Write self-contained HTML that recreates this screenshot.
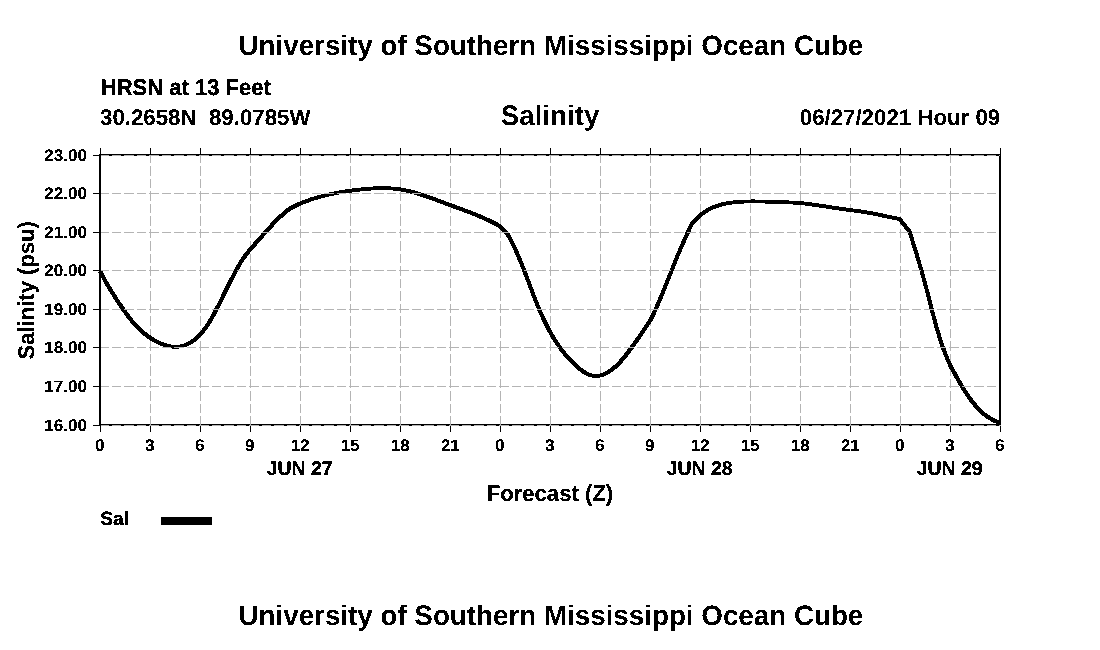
<!DOCTYPE html>
<html lang="en"><head><meta charset="utf-8"><title>University of Southern Mississippi Ocean Cube - Salinity</title>
<style>
html,body{margin:0;padding:0;background:#fff;}
body{width:1100px;height:650px;overflow:hidden;}
svg{display:block;}
text{font-family:"Liberation Sans",Arial,Helvetica,sans-serif;font-weight:bold;fill:#000;stroke:#000;stroke-linejoin:miter;white-space:pre;text-rendering:geometricPrecision;}
.grid line{stroke:#b4b4b4;stroke-width:1;stroke-dasharray:9.5 3;}
.ax rect{stroke:none;fill:#000;}
</style></head><body>
<svg width="1100" height="650" viewBox="0 0 1100 650">
<defs><filter id="bw" x="0" y="0" width="1100" height="650" filterUnits="userSpaceOnUse" color-interpolation-filters="sRGB"><feComponentTransfer><feFuncA type="discrete" tableValues="0 1"/></feComponentTransfer></filter></defs>
<rect x="0" y="0" width="1100" height="650" fill="#fff"/>
<g class="ax" shape-rendering="crispEdges">
<rect x="99" y="154" width="902" height="2"/>
<rect x="99" y="424" width="902" height="2"/>
</g>
<g class="grid" shape-rendering="crispEdges">
<line x1="150.5" y1="425.5" x2="150.5" y2="156"/>
<line x1="200.5" y1="425.5" x2="200.5" y2="156"/>
<line x1="250.5" y1="425.5" x2="250.5" y2="156"/>
<line x1="300.5" y1="425.5" x2="300.5" y2="156"/>
<line x1="350.5" y1="425.5" x2="350.5" y2="156"/>
<line x1="400.5" y1="425.5" x2="400.5" y2="156"/>
<line x1="450.5" y1="425.5" x2="450.5" y2="156"/>
<line x1="500.5" y1="425.5" x2="500.5" y2="156"/>
<line x1="550.5" y1="425.5" x2="550.5" y2="156"/>
<line x1="600.5" y1="425.5" x2="600.5" y2="156"/>
<line x1="650.5" y1="425.5" x2="650.5" y2="156"/>
<line x1="700.5" y1="425.5" x2="700.5" y2="156"/>
<line x1="750.5" y1="425.5" x2="750.5" y2="156"/>
<line x1="800.5" y1="425.5" x2="800.5" y2="156"/>
<line x1="850.5" y1="425.5" x2="850.5" y2="156"/>
<line x1="900.5" y1="425.5" x2="900.5" y2="156"/>
<line x1="950.5" y1="425.5" x2="950.5" y2="156"/>
</g>
<path d="M98.13 271.96 L98.81 273.30 L99.51 274.64 L100.21 275.97 L100.91 277.30 L101.63 278.63 L102.35 279.95 L103.08 281.27 L103.81 282.59 L104.56 283.90 L105.30 285.21 L106.06 286.51 L106.82 287.81 L107.59 289.10 L108.36 290.39 L109.14 291.68 L109.93 292.97 L110.72 294.25 L111.52 295.52 L112.32 296.80 L113.13 298.07 L113.94 299.33 L114.76 300.59 L115.59 301.85 L116.42 303.11 L117.26 304.36 L118.10 305.61 L118.94 306.86 L119.79 308.10 L120.65 309.34 L121.51 310.58 L122.37 311.81 L123.24 313.05 L124.12 314.27 L125.01 315.50 L125.91 316.72 L126.81 317.93 L127.73 319.14 L128.66 320.34 L129.61 321.53 L130.56 322.70 L131.54 323.87 L132.53 325.02 L133.53 326.16 L134.56 327.29 L135.61 328.40 L136.67 329.49 L137.76 330.56 L138.87 331.61 L140.00 332.64 L141.15 333.65 L142.33 334.64 L143.52 335.60 L144.74 336.54 L145.97 337.46 L147.22 338.36 L148.50 339.23 L149.79 340.07 L151.10 340.89 L152.43 341.69 L153.78 342.46 L155.15 343.20 L156.54 343.92 L157.95 344.60 L159.39 345.24 L160.84 345.85 L162.32 346.40 L163.82 346.90 L165.34 347.35 L166.87 347.73 L168.42 348.05 L169.98 348.31 L171.54 348.50 L173.10 348.62 L174.67 348.67 L176.23 348.67 L177.79 348.62 L179.35 348.50 L180.90 348.30 L182.45 348.02 L183.97 347.65 L185.48 347.20 L186.97 346.66 L188.43 346.04 L189.85 345.34 L191.24 344.57 L192.59 343.74 L193.91 342.84 L195.20 341.90 L196.45 340.91 L197.67 339.87 L198.85 338.80 L200.00 337.70 L201.11 336.57 L202.18 335.42 L203.22 334.25 L204.23 333.06 L205.21 331.85 L206.15 330.63 L207.07 329.40 L207.96 328.15 L208.83 326.89 L209.67 325.62 L210.49 324.34 L211.29 323.05 L212.07 321.75 L212.83 320.44 L213.58 319.13 L214.31 317.81 L215.03 316.49 L215.74 315.16 L216.45 313.83 L217.14 312.50 L217.83 311.17 L218.51 309.84 L219.20 308.50 L219.87 307.16 L220.55 305.82 L221.22 304.48 L221.90 303.14 L222.57 301.80 L223.23 300.46 L223.90 299.12 L224.57 297.77 L225.23 296.43 L225.90 295.09 L226.56 293.74 L227.22 292.40 L227.89 291.06 L228.56 289.72 L229.22 288.38 L229.89 287.04 L230.56 285.70 L231.23 284.37 L231.90 283.04 L232.58 281.71 L233.25 280.38 L233.94 279.05 L234.62 277.73 L235.31 276.41 L236.00 275.10 L236.69 273.78 L237.39 272.47 L238.09 271.17 L238.80 269.87 L239.51 268.58 L240.24 267.31 L240.97 266.04 L241.72 264.78 L242.49 263.53 L243.27 262.30 L244.07 261.07 L244.89 259.86 L245.73 258.67 L246.58 257.48 L247.46 256.31 L248.35 255.15 L249.26 254.00 L250.19 252.86 L251.13 251.73 L252.08 250.60 L253.04 249.47 L254.01 248.35 L254.99 247.24 L255.98 246.12 L256.97 245.00 L257.97 243.88 L258.97 242.76 L259.96 241.64 L260.96 240.52 L261.95 239.39 L262.94 238.27 L263.93 237.14 L264.92 236.02 L265.91 234.90 L266.90 233.78 L267.89 232.67 L268.89 231.56 L269.88 230.46 L270.88 229.36 L271.89 228.26 L272.90 227.18 L273.91 226.09 L274.93 225.02 L275.95 223.96 L276.99 222.90 L278.03 221.85 L279.07 220.82 L280.13 219.79 L281.19 218.77 L282.27 217.77 L283.35 216.78 L284.45 215.80 L285.56 214.83 L286.67 213.88 L287.81 212.94 L288.95 212.02 L290.11 211.11 L291.14 210.29 L292.32 209.65 L293.65 208.96 L294.98 208.30 L296.32 207.64 L297.67 207.01 L299.01 206.39 L300.37 205.79 L301.72 205.20 L303.09 204.63 L304.45 204.08 L305.82 203.54 L307.20 203.01 L308.58 202.50 L309.96 202.01 L311.35 201.53 L312.74 201.06 L314.14 200.61 L315.54 200.17 L316.94 199.74 L318.35 199.32 L319.76 198.92 L321.18 198.53 L322.60 198.15 L324.02 197.78 L325.44 197.43 L326.87 197.08 L328.30 196.75 L329.74 196.42 L331.18 196.11 L332.62 195.80 L334.06 195.51 L335.51 195.22 L336.95 194.94 L338.41 194.67 L339.86 194.41 L341.31 194.16 L342.77 193.92 L344.23 193.68 L345.70 193.45 L347.16 193.22 L348.63 193.00 L350.09 192.79 L351.56 192.59 L353.03 192.38 L354.51 192.19 L355.98 192.00 L357.45 191.81 L358.93 191.64 L360.40 191.47 L361.87 191.30 L363.35 191.15 L364.82 191.00 L366.29 190.86 L367.77 190.73 L369.24 190.61 L370.71 190.50 L372.18 190.41 L373.65 190.32 L375.12 190.24 L376.59 190.18 L378.06 190.13 L379.52 190.09 L380.99 190.07 L382.45 190.06 L383.92 190.08 L385.38 190.11 L386.84 190.16 L388.30 190.22 L389.75 190.30 L391.21 190.40 L392.66 190.51 L394.11 190.65 L395.56 190.80 L397.00 190.97 L398.45 191.16 L399.89 191.37 L401.32 191.61 L402.76 191.86 L404.19 192.13 L405.62 192.43 L407.05 192.75 L408.48 193.09 L409.91 193.44 L411.34 193.82 L412.77 194.21 L414.20 194.62 L415.63 195.04 L417.05 195.48 L418.48 195.93 L419.91 196.38 L421.34 196.85 L422.76 197.32 L424.19 197.80 L425.61 198.29 L427.03 198.78 L428.45 199.28 L429.87 199.78 L431.29 200.29 L432.71 200.81 L434.12 201.32 L435.54 201.84 L436.95 202.37 L438.36 202.89 L439.77 203.42 L441.18 203.95 L442.59 204.47 L444.00 205.00 L445.40 205.53 L446.81 206.05 L448.21 206.58 L449.61 207.10 L451.01 207.62 L452.41 208.13 L453.80 208.65 L455.20 209.16 L456.59 209.67 L457.98 210.18 L459.36 210.69 L460.74 211.20 L462.12 211.71 L463.50 212.22 L464.87 212.73 L466.25 213.25 L467.62 213.77 L468.98 214.29 L470.35 214.82 L471.71 215.35 L473.07 215.89 L474.43 216.43 L475.78 216.98 L477.13 217.54 L478.48 218.10 L479.83 218.68 L481.18 219.26 L482.52 219.85 L483.86 220.45 L485.20 221.06 L486.53 221.68 L487.87 222.31 L489.20 222.95 L490.53 223.61 L491.85 224.28 L493.18 224.96 L494.50 225.66 L495.82 226.37 L497.14 227.10 L497.99 227.53 L506.90 236.94 L507.34 237.80 L508.03 239.10 L508.71 240.41 L509.38 241.72 L510.04 243.04 L510.69 244.36 L511.34 245.69 L511.97 247.02 L512.60 248.36 L513.22 249.71 L513.84 251.05 L514.45 252.41 L515.05 253.76 L515.64 255.13 L516.23 256.49 L516.81 257.86 L517.39 259.23 L517.96 260.61 L518.53 261.99 L519.10 263.37 L519.65 264.76 L520.21 266.15 L520.76 267.54 L521.31 268.93 L521.86 270.33 L522.40 271.73 L522.94 273.13 L523.48 274.53 L524.01 275.93 L524.55 277.34 L525.08 278.74 L525.61 280.15 L526.15 281.56 L526.68 282.96 L527.21 284.37 L527.74 285.78 L528.27 287.19 L528.81 288.60 L529.34 290.01 L529.87 291.42 L530.41 292.83 L530.95 294.24 L531.49 295.64 L532.04 297.05 L532.58 298.46 L533.13 299.86 L533.69 301.26 L534.24 302.66 L534.81 304.06 L535.37 305.46 L535.94 306.85 L536.52 308.24 L537.10 309.63 L537.68 311.02 L538.28 312.40 L538.88 313.78 L539.48 315.16 L540.09 316.53 L540.71 317.90 L541.34 319.27 L541.97 320.63 L542.62 321.98 L543.27 323.34 L543.93 324.69 L544.59 326.03 L545.27 327.37 L545.96 328.71 L546.66 330.03 L547.36 331.36 L548.08 332.68 L548.81 333.99 L549.55 335.30 L550.30 336.60 L551.07 337.89 L551.84 339.18 L552.63 340.46 L553.43 341.73 L554.25 343.00 L555.07 344.26 L555.91 345.51 L556.77 346.75 L557.64 347.99 L558.52 349.22 L559.42 350.44 L560.34 351.65 L561.26 352.85 L562.21 354.05 L563.17 355.23 L564.15 356.41 L565.14 357.58 L566.16 358.73 L567.18 359.88 L568.23 361.02 L569.30 362.14 L570.38 363.26 L571.48 364.37 L572.60 365.46 L573.74 366.54 L574.90 367.62 L576.09 368.68 L577.30 369.71 L578.53 370.72 L579.80 371.70 L581.09 372.63 L582.41 373.52 L583.75 374.35 L585.13 375.12 L586.55 375.82 L587.99 376.43 L589.48 376.95 L590.99 377.37 L592.54 377.67 L594.12 377.84 L595.71 377.88 L597.33 377.86 L598.95 377.71 L600.56 377.43 L602.15 377.04 L603.72 376.54 L605.25 375.95 L606.74 375.28 L608.18 374.54 L609.56 373.73 L610.89 372.88 L612.18 371.99 L613.44 371.06 L614.66 370.10 L615.85 369.11 L617.02 368.09 L618.15 367.04 L619.26 365.97 L620.35 364.88 L621.42 363.76 L622.46 362.63 L623.48 361.47 L624.48 360.31 L625.47 359.12 L626.44 357.93 L627.39 356.73 L628.33 355.52 L629.26 354.30 L630.18 353.08 L631.09 351.86 L631.98 350.64 L632.87 349.41 L633.76 348.19 L634.64 346.98 L635.52 345.76 L636.39 344.54 L637.26 343.33 L638.12 342.11 L638.99 340.89 L639.84 339.67 L640.70 338.45 L641.55 337.23 L642.40 336.00 L643.24 334.77 L644.08 333.54 L644.92 332.30 L645.75 331.06 L646.59 329.82 L647.41 328.56 L648.24 327.31 L649.06 326.04 L649.87 324.77 L650.69 323.49 L651.50 322.21 L652.30 320.91 L653.15 319.52 L653.84 318.07 L654.48 316.72 L655.12 315.36 L655.75 314.01 L656.38 312.65 L656.99 311.29 L657.61 309.93 L658.22 308.57 L658.82 307.21 L659.42 305.85 L660.01 304.48 L660.60 303.11 L661.18 301.75 L661.76 300.38 L662.34 299.01 L662.91 297.64 L663.48 296.27 L664.04 294.89 L664.61 293.52 L665.17 292.15 L665.72 290.77 L666.28 289.40 L666.83 288.02 L667.38 286.65 L667.93 285.27 L668.48 283.90 L669.03 282.52 L669.57 281.15 L670.12 279.77 L670.67 278.39 L671.21 277.02 L671.76 275.64 L672.30 274.27 L672.85 272.89 L673.40 271.52 L673.94 270.14 L674.49 268.77 L675.04 267.40 L675.60 266.03 L676.15 264.65 L676.71 263.28 L677.27 261.91 L677.83 260.54 L678.39 259.18 L678.96 257.81 L679.53 256.44 L680.10 255.08 L680.68 253.71 L681.26 252.35 L681.84 250.99 L682.43 249.63 L683.02 248.27 L683.61 246.91 L684.20 245.55 L684.80 244.20 L685.40 242.84 L686.00 241.49 L686.60 240.14 L687.21 238.79 L687.82 237.44 L688.43 236.09 L689.04 234.75 L689.66 233.40 L690.28 232.06 L690.90 230.73 L691.52 229.39 L692.14 228.05 L692.77 226.72 L693.31 225.60 L694.13 224.58 L695.06 223.42 L696.02 222.30 L697.00 221.22 L698.01 220.17 L699.04 219.15 L700.10 218.17 L701.18 217.22 L702.29 216.31 L703.41 215.43 L704.56 214.59 L705.73 213.78 L706.91 213.01 L708.12 212.27 L709.34 211.57 L710.58 210.90 L711.84 210.27 L713.12 209.67 L714.41 209.11 L715.72 208.58 L717.04 208.08 L718.38 207.61 L719.73 207.17 L721.10 206.77 L722.48 206.39 L723.86 206.04 L725.26 205.72 L726.67 205.42 L728.09 205.15 L729.52 204.91 L730.95 204.68 L732.40 204.49 L733.85 204.31 L735.30 204.15 L736.76 204.00 L738.22 203.87 L739.69 203.76 L741.16 203.66 L742.63 203.57 L744.10 203.50 L745.58 203.44 L747.06 203.39 L748.54 203.35 L750.02 203.32 L751.51 203.30 L752.99 203.30 L754.48 203.30 L755.97 203.31 L757.46 203.33 L758.96 203.36 L760.45 203.39 L761.94 203.43 L763.44 203.47 L764.94 203.51 L766.44 203.56 L767.94 203.61 L769.44 203.67 L770.94 203.72 L772.44 203.78 L773.94 203.83 L775.44 203.89 L776.94 203.94 L778.44 203.99 L779.94 204.04 L781.44 204.09 L782.94 204.14 L784.43 204.19 L785.93 204.23 L787.42 204.28 L788.90 204.34 L790.39 204.40 L791.87 204.47 L793.35 204.54 L794.83 204.62 L796.30 204.72 L797.77 204.82 L799.24 204.94 L800.71 205.07 L802.17 205.21 L803.64 205.37 L805.11 205.54 L806.58 205.72 L808.05 205.91 L809.52 206.10 L811.00 206.30 L812.47 206.51 L813.94 206.72 L815.41 206.94 L816.89 207.16 L818.36 207.39 L819.83 207.61 L821.31 207.84 L822.78 208.07 L824.26 208.31 L825.73 208.54 L827.21 208.77 L828.68 209.00 L830.16 209.23 L831.63 209.46 L833.11 209.69 L834.58 209.91 L836.06 210.13 L837.54 210.35 L839.02 210.56 L840.49 210.77 L841.97 210.97 L843.45 211.16 L844.92 211.36 L846.39 211.55 L847.86 211.74 L849.33 211.93 L850.80 212.12 L852.27 212.30 L853.74 212.50 L855.20 212.69 L856.66 212.89 L858.12 213.09 L859.59 213.29 L861.05 213.51 L862.50 213.72 L863.96 213.95 L865.42 214.18 L866.87 214.43 L868.32 214.68 L869.78 214.94 L871.23 215.22 L872.68 215.50 L874.14 215.80 L875.60 216.10 L877.06 216.40 L878.52 216.71 L879.98 217.03 L881.45 217.35 L882.91 217.67 L884.38 217.99 L885.85 218.31 L887.32 218.63 L888.80 218.94 L890.27 219.25 L891.75 219.56 L893.23 219.85 L894.71 220.14 L896.19 220.43 L897.68 220.70 L897.90 220.44 L907.79 232.78 L908.00 233.53 L908.44 234.94 L908.89 236.35 L909.34 237.77 L909.78 239.19 L910.23 240.61 L910.68 242.03 L911.13 243.45 L911.57 244.87 L912.02 246.29 L912.47 247.72 L912.91 249.15 L913.35 250.57 L913.80 252.00 L914.24 253.43 L914.67 254.86 L915.11 256.29 L915.55 257.73 L915.98 259.16 L916.41 260.59 L916.83 262.03 L917.26 263.47 L917.68 264.90 L918.11 266.34 L918.52 267.78 L918.94 269.22 L919.36 270.66 L919.77 272.10 L920.18 273.54 L920.59 274.99 L920.99 276.43 L921.39 277.87 L921.79 279.31 L922.19 280.76 L922.59 282.20 L922.98 283.65 L923.37 285.09 L923.76 286.53 L924.15 287.98 L924.53 289.42 L924.91 290.87 L925.29 292.31 L925.66 293.76 L926.04 295.20 L926.41 296.65 L926.78 298.09 L927.15 299.54 L927.52 300.98 L927.89 302.43 L928.26 303.88 L928.63 305.32 L929.00 306.77 L929.37 308.21 L929.74 309.66 L930.11 311.10 L930.48 312.55 L930.86 313.99 L931.23 315.43 L931.61 316.88 L931.99 318.32 L932.38 319.76 L932.77 321.20 L933.16 322.64 L933.55 324.08 L933.95 325.52 L934.35 326.96 L934.76 328.39 L935.17 329.83 L935.59 331.27 L936.01 332.70 L936.44 334.13 L936.88 335.57 L937.32 337.00 L937.76 338.43 L938.22 339.85 L938.68 341.28 L939.15 342.71 L939.62 344.13 L940.11 345.55 L940.60 346.97 L941.10 348.39 L941.61 349.81 L942.13 351.23 L942.65 352.64 L943.19 354.06 L943.74 355.47 L944.29 356.87 L944.86 358.28 L945.44 359.69 L946.03 361.09 L946.63 362.49 L947.24 363.89 L947.87 365.29 L948.53 366.75 L949.28 368.11 L949.99 369.40 L950.71 370.69 L951.43 371.98 L952.15 373.28 L952.87 374.59 L953.60 375.90 L954.32 377.22 L955.06 378.53 L955.79 379.85 L956.53 381.17 L957.28 382.49 L958.04 383.81 L958.80 385.13 L959.57 386.45 L960.35 387.76 L961.13 389.07 L961.93 390.38 L962.74 391.68 L963.55 392.97 L964.39 394.26 L965.23 395.54 L966.08 396.81 L966.95 398.07 L967.84 399.33 L968.74 400.57 L969.65 401.80 L970.59 403.02 L971.54 404.22 L972.50 405.41 L973.49 406.58 L974.50 407.74 L975.52 408.89 L976.57 410.01 L977.64 411.12 L978.73 412.20 L979.85 413.26 L980.99 414.30 L982.16 415.31 L983.36 416.28 L984.58 417.23 L985.83 418.14 L987.11 419.01 L988.41 419.84 L989.75 420.63 L991.12 421.38 L992.52 422.08 L993.95 422.72 L995.41 423.32 L996.91 423.85 L998.43 424.34 L999.95 424.75 L1001.05 420.85 L999.62 420.43 L998.26 419.97 L996.93 419.46 L995.62 418.91 L994.35 418.30 L993.09 417.65 L991.86 416.96 L990.65 416.23 L989.47 415.46 L988.30 414.66 L987.16 413.81 L986.03 412.94 L984.93 412.02 L983.84 411.08 L982.78 410.11 L981.73 409.12 L980.70 408.09 L979.69 407.05 L978.69 405.98 L977.71 404.90 L976.75 403.79 L975.81 402.67 L974.88 401.53 L973.97 400.38 L973.07 399.21 L972.18 398.03 L971.31 396.84 L970.45 395.63 L969.61 394.41 L968.77 393.17 L967.95 391.93 L967.14 390.68 L966.34 389.42 L965.54 388.15 L964.76 386.87 L963.98 385.59 L963.22 384.30 L962.46 383.00 L961.70 381.70 L960.96 380.40 L960.22 379.09 L959.48 377.79 L958.75 376.48 L958.02 375.17 L957.29 373.86 L956.57 372.55 L955.85 371.24 L955.13 369.94 L954.41 368.64 L953.68 367.34 L952.96 366.05 L952.27 364.85 L951.67 363.56 L951.05 362.19 L950.45 360.83 L949.86 359.46 L949.27 358.08 L948.70 356.71 L948.14 355.33 L947.59 353.95 L947.05 352.57 L946.52 351.18 L945.99 349.79 L945.48 348.40 L944.98 347.01 L944.48 345.61 L943.99 344.21 L943.51 342.81 L943.04 341.41 L942.57 340.01 L942.11 338.60 L941.66 337.19 L941.22 335.78 L940.78 334.37 L940.35 332.95 L939.92 331.54 L939.50 330.12 L939.08 328.70 L938.67 327.28 L938.26 325.85 L937.86 324.43 L937.46 323.00 L937.07 321.57 L936.68 320.14 L936.29 318.71 L935.91 317.28 L935.53 315.84 L935.15 314.41 L934.77 312.97 L934.40 311.53 L934.02 310.09 L933.65 308.65 L933.28 307.21 L932.91 305.77 L932.54 304.32 L932.17 302.88 L931.80 301.43 L931.44 299.99 L931.07 298.54 L930.70 297.09 L930.32 295.64 L929.95 294.19 L929.58 292.74 L929.20 291.29 L928.82 289.84 L928.44 288.39 L928.06 286.94 L927.67 285.49 L927.28 284.04 L926.89 282.59 L926.50 281.14 L926.10 279.69 L925.70 278.23 L925.30 276.78 L924.90 275.34 L924.49 273.89 L924.09 272.44 L923.68 270.99 L923.26 269.54 L922.85 268.10 L922.43 266.65 L922.01 265.20 L921.59 263.76 L921.17 262.32 L920.74 260.87 L920.31 259.43 L919.88 257.99 L919.45 256.55 L919.01 255.11 L918.58 253.67 L918.14 252.24 L917.70 250.80 L917.25 249.37 L916.81 247.93 L916.37 246.50 L915.92 245.07 L915.47 243.65 L915.03 242.22 L914.58 240.80 L914.13 239.38 L913.68 237.96 L913.23 236.54 L912.79 235.12 L912.34 233.71 L911.89 232.30 L911.21 230.22 L901.10 217.56 L898.38 216.78 L896.93 216.51 L895.47 216.23 L894.01 215.94 L892.55 215.64 L891.09 215.34 L889.63 215.03 L888.17 214.71 L886.70 214.39 L885.24 214.07 L883.77 213.75 L882.30 213.43 L880.83 213.11 L879.36 212.80 L877.88 212.49 L876.41 212.18 L874.93 211.88 L873.45 211.59 L871.97 211.31 L870.49 211.03 L869.01 210.77 L867.53 210.52 L866.05 210.28 L864.57 210.05 L863.09 209.82 L861.61 209.60 L860.14 209.39 L858.66 209.19 L857.19 208.99 L855.72 208.79 L854.24 208.60 L852.77 208.41 L851.30 208.22 L849.83 208.03 L848.37 207.84 L846.90 207.65 L845.43 207.46 L843.97 207.27 L842.50 207.07 L841.04 206.87 L839.57 206.66 L838.11 206.45 L836.64 206.23 L835.17 206.01 L833.71 205.78 L832.24 205.56 L830.77 205.33 L829.29 205.10 L827.82 204.86 L826.35 204.63 L824.87 204.40 L823.39 204.17 L821.92 203.94 L820.44 203.71 L818.96 203.48 L817.47 203.26 L815.99 203.04 L814.51 202.82 L813.02 202.61 L811.53 202.40 L810.04 202.20 L808.55 202.01 L807.06 201.83 L805.56 201.65 L804.06 201.49 L802.56 201.33 L801.06 201.19 L799.55 201.07 L798.05 200.96 L796.55 200.86 L795.05 200.77 L793.54 200.69 L792.04 200.62 L790.54 200.56 L789.05 200.50 L787.55 200.45 L786.05 200.40 L784.55 200.36 L783.06 200.31 L781.56 200.26 L780.07 200.21 L778.57 200.16 L777.08 200.11 L775.58 200.05 L774.08 200.00 L772.58 199.94 L771.08 199.89 L769.57 199.83 L768.07 199.78 L766.56 199.73 L765.06 199.68 L763.55 199.64 L762.04 199.60 L760.53 199.57 L759.02 199.54 L757.51 199.52 L756.01 199.50 L754.50 199.50 L752.99 199.49 L751.48 199.50 L749.97 199.51 L748.46 199.53 L746.95 199.56 L745.45 199.61 L743.94 199.66 L742.43 199.73 L740.93 199.81 L739.42 199.90 L737.92 200.01 L736.41 200.13 L734.91 200.27 L733.41 200.42 L731.91 200.59 L730.41 200.78 L728.90 201.00 L727.41 201.24 L725.92 201.51 L724.43 201.80 L722.95 202.12 L721.47 202.47 L720.01 202.86 L718.55 203.27 L717.10 203.72 L715.66 204.20 L714.24 204.72 L712.82 205.27 L711.42 205.86 L710.03 206.49 L708.66 207.16 L707.31 207.87 L705.97 208.62 L704.66 209.41 L703.36 210.24 L702.09 211.11 L700.84 212.02 L699.61 212.96 L698.41 213.95 L697.23 214.98 L696.08 216.04 L694.95 217.15 L693.86 218.29 L692.79 219.47 L691.75 220.69 L690.75 221.94 L689.69 223.40 L688.98 224.94 L688.35 226.28 L687.73 227.62 L687.10 228.97 L686.48 230.31 L685.86 231.66 L685.24 233.01 L684.63 234.36 L684.02 235.72 L683.40 237.07 L682.80 238.43 L682.19 239.79 L681.58 241.15 L680.98 242.51 L680.38 243.88 L679.79 245.24 L679.19 246.61 L678.60 247.98 L678.02 249.35 L677.43 250.72 L676.85 252.09 L676.27 253.47 L675.69 254.84 L675.12 256.22 L674.55 257.59 L673.99 258.97 L673.42 260.34 L672.86 261.72 L672.31 263.10 L671.75 264.48 L671.20 265.85 L670.65 267.23 L670.10 268.61 L669.55 269.99 L669.00 271.36 L668.45 272.74 L667.91 274.12 L667.36 275.49 L666.82 276.87 L666.27 278.24 L665.72 279.62 L665.18 280.99 L664.63 282.36 L664.08 283.74 L663.53 285.11 L662.98 286.48 L662.43 287.85 L661.88 289.22 L661.32 290.58 L660.76 291.95 L660.20 293.31 L659.64 294.68 L659.07 296.04 L658.50 297.40 L657.93 298.76 L657.35 300.12 L656.77 301.47 L656.19 302.82 L655.60 304.18 L655.00 305.53 L654.40 306.87 L653.80 308.22 L653.19 309.57 L652.58 310.91 L651.96 312.25 L651.33 313.58 L650.70 314.92 L650.06 316.25 L649.45 317.48 L648.70 318.67 L647.90 319.95 L647.10 321.22 L646.29 322.48 L645.48 323.73 L644.67 324.98 L643.86 326.22 L643.04 327.46 L642.21 328.69 L641.39 329.92 L640.56 331.14 L639.72 332.36 L638.89 333.58 L638.04 334.79 L637.20 336.01 L636.35 337.22 L635.50 338.43 L634.64 339.64 L633.78 340.85 L632.91 342.05 L632.05 343.26 L631.17 344.47 L630.30 345.69 L629.42 346.90 L628.53 348.11 L627.64 349.32 L626.75 350.52 L625.85 351.72 L624.94 352.90 L624.02 354.08 L623.10 355.24 L622.16 356.39 L621.21 357.53 L620.25 358.65 L619.27 359.74 L618.28 360.82 L617.27 361.88 L616.25 362.91 L615.20 363.92 L614.14 364.90 L613.06 365.85 L611.96 366.77 L610.83 367.66 L609.68 368.52 L608.52 369.34 L607.33 370.12 L606.12 370.85 L604.88 371.52 L603.60 372.13 L602.30 372.67 L600.99 373.13 L599.66 373.51 L598.34 373.80 L597.03 373.99 L595.74 374.08 L594.48 373.97 L593.23 373.76 L591.99 373.46 L590.77 373.06 L589.55 372.59 L588.33 372.03 L587.13 371.40 L585.92 370.71 L584.73 369.95 L583.54 369.14 L582.37 368.28 L581.21 367.37 L580.06 366.43 L578.92 365.45 L577.79 364.44 L576.68 363.41 L575.58 362.37 L574.51 361.31 L573.45 360.25 L572.40 359.17 L571.37 358.08 L570.36 356.99 L569.37 355.88 L568.39 354.77 L567.43 353.64 L566.49 352.51 L565.55 351.36 L564.64 350.21 L563.74 349.05 L562.85 347.88 L561.98 346.70 L561.12 345.51 L560.27 344.31 L559.44 343.11 L558.62 341.90 L557.81 340.67 L557.02 339.45 L556.24 338.21 L555.47 336.96 L554.71 335.71 L553.96 334.45 L553.22 333.19 L552.50 331.92 L551.78 330.64 L551.07 329.35 L550.38 328.06 L549.69 326.76 L549.02 325.45 L548.35 324.14 L547.69 322.83 L547.04 321.50 L546.39 320.18 L545.76 318.84 L545.13 317.51 L544.51 316.16 L543.90 314.82 L543.29 313.46 L542.69 312.11 L542.10 310.75 L541.51 309.38 L540.93 308.01 L540.35 306.64 L539.78 305.27 L539.21 303.89 L538.65 302.50 L538.09 301.12 L537.54 299.73 L536.99 298.34 L536.44 296.95 L535.89 295.55 L535.35 294.15 L534.81 292.75 L534.27 291.35 L533.74 289.95 L533.20 288.55 L532.67 287.14 L532.14 285.73 L531.61 284.32 L531.07 282.92 L530.54 281.51 L530.01 280.10 L529.48 278.69 L528.95 277.28 L528.41 275.87 L527.88 274.46 L527.34 273.05 L526.80 271.64 L526.26 270.23 L525.71 268.83 L525.17 267.42 L524.61 266.02 L524.06 264.62 L523.50 263.22 L522.94 261.82 L522.37 260.42 L521.80 259.03 L521.23 257.63 L520.64 256.24 L520.06 254.86 L519.46 253.47 L518.86 252.09 L518.26 250.71 L517.64 249.34 L517.02 247.97 L516.40 246.60 L515.76 245.24 L515.12 243.88 L514.46 242.52 L513.80 241.17 L513.13 239.83 L512.45 238.49 L511.76 237.15 L511.06 235.82 L510.10 234.06 L501.01 224.47 L499.19 223.40 L497.83 222.66 L496.48 221.94 L495.12 221.23 L493.76 220.53 L492.40 219.85 L491.03 219.18 L489.67 218.53 L488.30 217.89 L486.94 217.26 L485.57 216.64 L484.20 216.03 L482.84 215.44 L481.47 214.85 L480.09 214.27 L478.72 213.70 L477.35 213.14 L475.97 212.59 L474.60 212.04 L473.22 211.50 L471.84 210.96 L470.47 210.43 L469.09 209.91 L467.70 209.38 L466.32 208.87 L464.94 208.35 L463.56 207.84 L462.17 207.33 L460.78 206.82 L459.40 206.31 L458.01 205.80 L456.62 205.29 L455.23 204.78 L453.84 204.26 L452.44 203.75 L451.05 203.23 L449.65 202.71 L448.25 202.19 L446.85 201.66 L445.45 201.14 L444.04 200.61 L442.63 200.08 L441.22 199.55 L439.80 199.02 L438.38 198.50 L436.96 197.97 L435.54 197.45 L434.11 196.93 L432.69 196.42 L431.25 195.91 L429.82 195.40 L428.38 194.90 L426.94 194.40 L425.50 193.91 L424.06 193.43 L422.61 192.95 L421.16 192.49 L419.71 192.03 L418.25 191.58 L416.79 191.14 L415.32 190.72 L413.85 190.30 L412.38 189.91 L410.90 189.53 L409.42 189.17 L407.94 188.83 L406.45 188.51 L404.95 188.22 L403.46 187.95 L401.96 187.70 L400.47 187.47 L398.97 187.26 L397.47 187.08 L395.97 186.92 L394.47 186.77 L392.97 186.65 L391.47 186.54 L389.97 186.45 L388.47 186.38 L386.97 186.32 L385.47 186.29 L383.96 186.27 L382.46 186.26 L380.96 186.26 L379.46 186.28 L377.95 186.31 L376.45 186.35 L374.95 186.40 L373.45 186.47 L371.95 186.55 L370.45 186.65 L368.95 186.75 L367.45 186.86 L365.95 186.99 L364.45 187.12 L362.96 187.27 L361.46 187.42 L359.97 187.58 L358.47 187.75 L356.98 187.92 L355.49 188.11 L354.00 188.29 L352.52 188.49 L351.03 188.69 L349.54 188.89 L348.06 189.10 L346.58 189.32 L345.09 189.54 L343.61 189.77 L342.13 190.01 L340.65 190.25 L339.17 190.50 L337.70 190.76 L336.22 191.03 L334.75 191.31 L333.28 191.59 L331.81 191.89 L330.34 192.19 L328.88 192.51 L327.41 192.83 L325.95 193.17 L324.49 193.51 L323.03 193.87 L321.58 194.24 L320.13 194.62 L318.68 195.01 L317.23 195.42 L315.78 195.83 L314.34 196.27 L312.90 196.71 L311.47 197.17 L310.04 197.64 L308.61 198.13 L307.18 198.63 L305.76 199.15 L304.34 199.68 L302.93 200.23 L301.52 200.79 L300.11 201.37 L298.70 201.97 L297.31 202.58 L295.91 203.21 L294.52 203.86 L293.13 204.53 L291.75 205.22 L290.37 205.92 L288.86 206.71 L287.49 207.71 L286.28 208.66 L285.09 209.62 L283.91 210.59 L282.75 211.58 L281.61 212.58 L280.47 213.59 L279.35 214.61 L278.24 215.65 L277.15 216.69 L276.06 217.75 L274.99 218.81 L273.92 219.88 L272.87 220.96 L271.82 222.05 L270.78 223.14 L269.75 224.24 L268.73 225.35 L267.71 226.46 L266.70 227.57 L265.69 228.69 L264.69 229.81 L263.69 230.93 L262.69 232.05 L261.70 233.18 L260.71 234.30 L259.72 235.43 L258.73 236.55 L257.74 237.67 L256.75 238.79 L255.75 239.91 L254.76 241.03 L253.76 242.15 L252.76 243.27 L251.77 244.40 L250.78 245.53 L249.79 246.67 L248.81 247.82 L247.83 248.98 L246.87 250.15 L245.91 251.33 L244.97 252.52 L244.04 253.73 L243.13 254.96 L242.24 256.20 L241.37 257.45 L240.52 258.72 L239.69 260.00 L238.88 261.29 L238.09 262.59 L237.31 263.90 L236.56 265.21 L235.82 266.53 L235.10 267.84 L234.38 269.16 L233.67 270.49 L232.97 271.81 L232.27 273.14 L231.57 274.46 L230.88 275.80 L230.19 277.13 L229.51 278.47 L228.83 279.80 L228.15 281.14 L227.48 282.48 L226.80 283.82 L226.13 285.16 L225.46 286.51 L224.80 287.85 L224.13 289.19 L223.46 290.54 L222.80 291.88 L222.13 293.22 L221.47 294.57 L220.80 295.91 L220.14 297.25 L219.47 298.59 L218.81 299.93 L218.14 301.26 L217.47 302.60 L216.80 303.93 L216.13 305.26 L215.45 306.59 L214.77 307.92 L214.09 309.24 L213.41 310.56 L212.72 311.87 L212.03 313.18 L211.32 314.48 L210.62 315.77 L209.90 317.05 L209.17 318.32 L208.42 319.58 L207.67 320.83 L206.89 322.06 L206.10 323.29 L205.29 324.50 L204.47 325.69 L203.62 326.87 L202.75 328.04 L201.85 329.18 L200.93 330.31 L199.98 331.43 L199.01 332.52 L198.00 333.59 L196.97 334.64 L195.91 335.66 L194.83 336.65 L193.72 337.60 L192.59 338.50 L191.44 339.36 L190.27 340.17 L189.08 340.92 L187.87 341.62 L186.64 342.25 L185.40 342.82 L184.14 343.31 L182.86 343.74 L181.55 344.10 L180.23 344.39 L178.88 344.61 L177.52 344.76 L176.15 344.85 L174.76 344.85 L173.37 344.76 L171.98 344.61 L170.59 344.40 L169.20 344.14 L167.82 343.82 L166.44 343.44 L165.08 343.01 L163.73 342.53 L162.39 342.00 L161.06 341.43 L159.74 340.81 L158.44 340.16 L157.14 339.48 L155.85 338.77 L154.58 338.03 L153.33 337.27 L152.09 336.49 L150.87 335.69 L149.67 334.86 L148.49 334.01 L147.33 333.14 L146.18 332.25 L145.06 331.33 L143.95 330.40 L142.86 329.44 L141.80 328.47 L140.75 327.47 L139.72 326.45 L138.71 325.42 L137.71 324.36 L136.73 323.29 L135.76 322.20 L134.81 321.09 L133.87 319.97 L132.95 318.84 L132.03 317.69 L131.12 316.53 L130.23 315.35 L129.34 314.17 L128.46 312.98 L127.59 311.78 L126.72 310.57 L125.86 309.35 L125.01 308.13 L124.16 306.91 L123.31 305.68 L122.47 304.45 L121.63 303.22 L120.80 301.99 L119.97 300.75 L119.15 299.51 L118.33 298.27 L117.52 297.02 L116.71 295.77 L115.91 294.52 L115.12 293.26 L114.33 292.00 L113.54 290.74 L112.77 289.47 L111.99 288.20 L111.23 286.93 L110.47 285.65 L109.72 284.37 L108.97 283.09 L108.23 281.80 L107.50 280.51 L106.77 279.22 L106.05 277.92 L105.34 276.62 L104.63 275.31 L103.93 274.00 L103.24 272.69 L102.55 271.37 L101.87 270.04Z" fill="#000" stroke="none" shape-rendering="crispEdges"/>
<g class="grid" shape-rendering="crispEdges">
<line x1="99.25" y1="425.5" x2="1001" y2="425.5"/>
<line x1="99.25" y1="386.5" x2="1001" y2="386.5"/>
<line x1="99.25" y1="347.5" x2="1001" y2="347.5"/>
<line x1="99.25" y1="309.5" x2="1001" y2="309.5"/>
<line x1="99.25" y1="270.5" x2="1001" y2="270.5"/>
<line x1="99.25" y1="232.5" x2="1001" y2="232.5"/>
<line x1="99.25" y1="193.5" x2="1001" y2="193.5"/>
<line x1="99.25" y1="155.5" x2="1001" y2="155.5"/>
</g>
<g class="ax" shape-rendering="crispEdges">
<rect x="99" y="154" width="2" height="272"/>
<rect x="999" y="156" width="2" height="269"/>
<rect x="100" y="148" width="1" height="6"/>
<rect x="100" y="425" width="1" height="7"/>
<rect x="150" y="148" width="1" height="6"/>
<rect x="150" y="426" width="1" height="6"/>
<rect x="200" y="148" width="1" height="6"/>
<rect x="200" y="426" width="1" height="6"/>
<rect x="250" y="148" width="1" height="6"/>
<rect x="250" y="426" width="1" height="6"/>
<rect x="300" y="148" width="1" height="6"/>
<rect x="300" y="426" width="1" height="6"/>
<rect x="350" y="148" width="1" height="6"/>
<rect x="350" y="426" width="1" height="6"/>
<rect x="400" y="148" width="1" height="6"/>
<rect x="400" y="426" width="1" height="6"/>
<rect x="450" y="148" width="1" height="6"/>
<rect x="450" y="426" width="1" height="6"/>
<rect x="500" y="148" width="1" height="6"/>
<rect x="500" y="426" width="1" height="6"/>
<rect x="550" y="148" width="1" height="6"/>
<rect x="550" y="426" width="1" height="6"/>
<rect x="600" y="148" width="1" height="6"/>
<rect x="600" y="426" width="1" height="6"/>
<rect x="650" y="148" width="1" height="6"/>
<rect x="650" y="426" width="1" height="6"/>
<rect x="700" y="148" width="1" height="6"/>
<rect x="700" y="426" width="1" height="6"/>
<rect x="750" y="148" width="1" height="6"/>
<rect x="750" y="426" width="1" height="6"/>
<rect x="800" y="148" width="1" height="6"/>
<rect x="800" y="426" width="1" height="6"/>
<rect x="850" y="148" width="1" height="6"/>
<rect x="850" y="426" width="1" height="6"/>
<rect x="900" y="148" width="1" height="6"/>
<rect x="900" y="426" width="1" height="6"/>
<rect x="950" y="148" width="1" height="6"/>
<rect x="950" y="426" width="1" height="6"/>
<rect x="1000" y="148" width="1" height="6"/>
<rect x="1000" y="426" width="1" height="6"/>
<rect x="1000" y="154" width="1" height="2"/>
<rect x="93" y="425" width="6" height="1"/>
<rect x="93" y="386" width="6" height="1"/>
<rect x="93" y="347" width="6" height="1"/>
<rect x="93" y="309" width="6" height="1"/>
<rect x="93" y="270" width="6" height="1"/>
<rect x="93" y="232" width="6" height="1"/>
<rect x="93" y="193" width="6" height="1"/>
<rect x="93" y="155" width="6" height="1"/>
</g>
<rect x="999" y="425" width="2" height="1" fill="#b4b4b4" shape-rendering="crispEdges"/>
<rect x="161" y="517" width="51" height="8" fill="#000" shape-rendering="crispEdges"/>
<g filter="url(#bw)">
<text transform="translate(238.50 55.00) scale(0.9811 1)" font-size="28.30" stroke-width="0.00" xml:space="preserve">University of Southern Mississippi Ocean Cube</text>
<text transform="translate(100.75 95.00) scale(0.9657 1)" font-size="22.80" stroke-width="0.30" xml:space="preserve">HRSN at 13 Feet</text>
<text transform="translate(100.00 125.00) scale(0.9898 1)" font-size="22.50" stroke-width="0.10" xml:space="preserve">30.2658N  89.0785W</text>
<text transform="translate(500.75 125.00) scale(0.9798 1)" font-size="28.30" stroke-width="0.00" xml:space="preserve">Salinity</text>
<text transform="translate(799.75 125.00) scale(0.9891 1)" font-size="22.50" stroke-width="0.10" xml:space="preserve">06/27/2021 Hour 09</text>
<text transform="translate(44.25 431.00) scale(1.0170 1)" font-size="16.80" stroke-width="0.10">16.00</text>
<text transform="translate(44.25 392.00) scale(1.0170 1)" font-size="16.80" stroke-width="0.10">17.00</text>
<text transform="translate(44.25 353.00) scale(1.0170 1)" font-size="16.80" stroke-width="0.10">18.00</text>
<text transform="translate(44.25 315.00) scale(1.0170 1)" font-size="16.80" stroke-width="0.10">19.00</text>
<text transform="translate(44.25 276.00) scale(1.0170 1)" font-size="16.80" stroke-width="0.10">20.00</text>
<text transform="translate(44.25 238.00) scale(1.0170 1)" font-size="16.80" stroke-width="0.10">21.00</text>
<text transform="translate(44.25 199.00) scale(1.0170 1)" font-size="16.80" stroke-width="0.10">22.00</text>
<text transform="translate(44.25 161.00) scale(1.0170 1)" font-size="16.80" stroke-width="0.10">23.00</text>
<text transform="translate(99.70 451.00) scale(1.0300 1)" font-size="16.80" stroke-width="0.10" text-anchor="middle">0</text>
<text transform="translate(149.70 451.00) scale(1.0300 1)" font-size="16.80" stroke-width="0.10" text-anchor="middle">3</text>
<text transform="translate(199.70 451.00) scale(1.0300 1)" font-size="16.80" stroke-width="0.10" text-anchor="middle">6</text>
<text transform="translate(249.70 451.00) scale(1.0300 1)" font-size="16.80" stroke-width="0.10" text-anchor="middle">9</text>
<text transform="translate(300.30 451.00) scale(1.0000 1)" font-size="16.80" stroke-width="0.10" text-anchor="middle">12</text>
<text transform="translate(350.30 451.00) scale(1.0000 1)" font-size="16.80" stroke-width="0.10" text-anchor="middle">15</text>
<text transform="translate(400.30 451.00) scale(1.0000 1)" font-size="16.80" stroke-width="0.10" text-anchor="middle">18</text>
<text transform="translate(450.30 451.00) scale(1.0000 1)" font-size="16.80" stroke-width="0.10" text-anchor="middle">21</text>
<text transform="translate(499.70 451.00) scale(1.0300 1)" font-size="16.80" stroke-width="0.10" text-anchor="middle">0</text>
<text transform="translate(549.70 451.00) scale(1.0300 1)" font-size="16.80" stroke-width="0.10" text-anchor="middle">3</text>
<text transform="translate(599.70 451.00) scale(1.0300 1)" font-size="16.80" stroke-width="0.10" text-anchor="middle">6</text>
<text transform="translate(649.70 451.00) scale(1.0300 1)" font-size="16.80" stroke-width="0.10" text-anchor="middle">9</text>
<text transform="translate(700.30 451.00) scale(1.0000 1)" font-size="16.80" stroke-width="0.10" text-anchor="middle">12</text>
<text transform="translate(750.30 451.00) scale(1.0000 1)" font-size="16.80" stroke-width="0.10" text-anchor="middle">15</text>
<text transform="translate(800.30 451.00) scale(1.0000 1)" font-size="16.80" stroke-width="0.10" text-anchor="middle">18</text>
<text transform="translate(850.30 451.00) scale(1.0000 1)" font-size="16.80" stroke-width="0.10" text-anchor="middle">21</text>
<text transform="translate(899.70 451.00) scale(1.0300 1)" font-size="16.80" stroke-width="0.10" text-anchor="middle">0</text>
<text transform="translate(949.70 451.00) scale(1.0300 1)" font-size="16.80" stroke-width="0.10" text-anchor="middle">3</text>
<text transform="translate(999.70 451.00) scale(1.0300 1)" font-size="16.80" stroke-width="0.10" text-anchor="middle">6</text>
<text transform="translate(266.75 475.00) scale(0.9821 1)" font-size="19.80" stroke-width="0.30">JUN 27</text>
<text transform="translate(666.75 475.00) scale(0.9821 1)" font-size="19.80" stroke-width="0.30">JUN 28</text>
<text transform="translate(916.75 475.00) scale(0.9821 1)" font-size="19.80" stroke-width="0.30">JUN 29</text>
<text transform="translate(486.75 501.00) scale(0.9728 1)" font-size="22.70" stroke-width="0.20" xml:space="preserve">Forecast (Z)</text>
<text transform="translate(34.00 359.50) rotate(-90) scale(0.9716 1)" font-size="22.70" stroke-width="0.20">Salinity (psu)</text>
<text transform="translate(100.25 525.00) scale(1.0000 1)" font-size="19.20" stroke-width="0.25" xml:space="preserve">Sal</text>
<text transform="translate(238.50 625.00) scale(0.9811 1)" font-size="28.30" stroke-width="0.00">University of Southern Mississippi Ocean Cube</text>
</g>
</svg>
</body></html>
